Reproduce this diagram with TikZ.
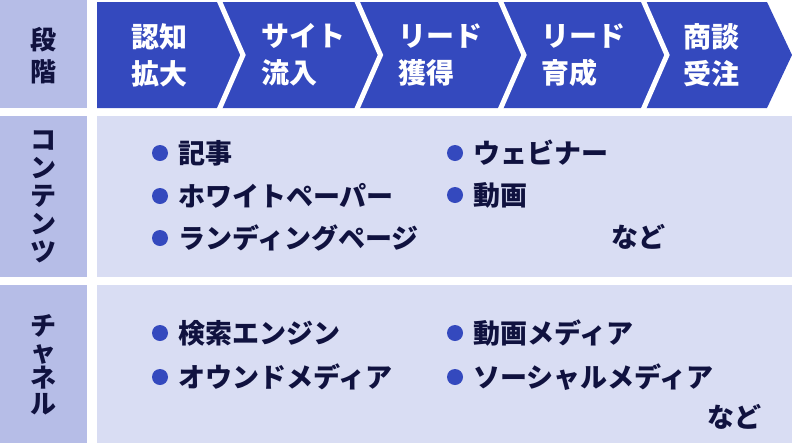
\documentclass[tikz,border=0pt]{standalone}
\usepackage{fontspec}
\setmainfont{Noto Sans CJK JP}
\definecolor{hdr}{HTML}{3449BE}
\definecolor{lab}{HTML}{B6BDE7}
\definecolor{pale}{HTML}{D9DDF3}
\definecolor{ink}{HTML}{10123F}
\tikzset{
  hdrtext/.style={anchor=west,align=left,inner sep=0pt,text=white,font=\fontsize{28}{37}\selectfont\bfseries},
  labtext/.style={align=center,inner sep=0pt,text=ink},
  itemtext/.style={anchor=west,inner sep=0pt,text=ink,font=\fontsize{27}{30}\selectfont\bfseries},
  dot/.style={circle,fill=hdr,inner sep=0pt,minimum size=16pt},
  sep/.style={white,line width=5pt,line join=miter}
}
\begin{document}
\begin{tikzpicture}[x=1pt,y=-1pt]
\useasboundingbox (0,0) rectangle (792,445);
% left label column
\fill[lab] (0,0) rectangle (87,108);
\fill[lab] (0,116) rectangle (87,277);
\fill[lab] (0,285) rectangle (87,443);
% content rows
\fill[pale] (97,116) rectangle (792,277);
\fill[pale] (97,285) rectangle (792,443);
% chevron band
\fill[hdr] (97,2) -- (767,2) -- (792,55) -- (767,108) -- (97,108) -- cycle;
\foreach \x in {218.5,356,499.5,642.5}
  \draw[sep] (\x,-1) -- (\x+24.5,55) -- (\x,111);
% header texts
\node[hdrtext] (s1) at (131,55) {認知\\拡大};
\node[hdrtext] (s2) at (261,55) {サイト\\流入};
\node[hdrtext] (s3) at (398,55) {リード\\獲得};
\node[hdrtext] (s4) at (541,55) {リード\\育成};
\node[hdrtext] (s5) at (683,55) {商談\\受注};
% left labels
\node[labtext,font=\fontsize{26}{32}\selectfont\bfseries] (l1) at (43,56) {段\\階};
\node[labtext,font=\fontsize{26}{28}\selectfont\bfseries] (l2) at (43,197) {コ\\ン\\テ\\ン\\ツ};
\node[labtext,font=\fontsize{26}{26}\selectfont\bfseries] (l3) at (43,365) {チ\\ャ\\ネ\\ル};
% contents
\node[dot] (b1) at (160,153) {};
\node[itemtext] (c1) at (178,153) {記事};
\node[dot] (b2) at (160,196) {};
\node[itemtext] (c2) at (178,196) {ホワイトペーパー};
\node[dot] (b3) at (160,238) {};
\node[itemtext] (c3) at (178,238) {ランディングページ};
\node[dot] (b4) at (455,153) {};
\node[itemtext] (c4) at (473,153) {ウェビナー};
\node[dot] (b5) at (455,195) {};
\node[itemtext] (c5) at (473,195) {動画};
\node[itemtext] (c6) at (611,237) {など};
% channels
\node[dot] (d1) at (160,333) {};
\node[itemtext] (e1) at (178,333) {検索エンジン};
\node[dot] (d2) at (160,377) {};
\node[itemtext] (e2) at (178,377) {オウンドメディア};
\node[dot] (d3) at (455,333) {};
\node[itemtext] (e3) at (473,333) {動画メディア};
\node[dot] (d4) at (455,377) {};
\node[itemtext] (e4) at (473,377) {ソーシャルメディア};
\node[itemtext] (e5) at (707,417) {など};
\end{tikzpicture}
\end{document}
